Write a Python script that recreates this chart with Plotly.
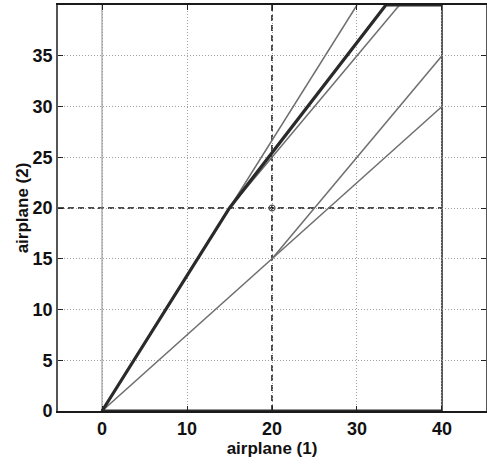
import plotly.graph_objects as go

# ---- data ----
bold_x = [40, 0, 15, 33.4, 40]
bold_y = [0, 0, 20, 40, 40]

steep_x = [0, 30]          # y = 4/3 x
steep_y = [0, 40]
upper_x = [15, 35]         # y = x + 5
upper_y = [20, 40]
low1_x = [0, 20, 40]       # y = 0.75 x
low1_y = [0, 15, 30]
low2_x = [20, 40]          # y = x - 5
low2_y = [15, 35]

ref_x = 20
ref_y = 20
bound_left = 0
bound_right = 40

x_ticks = [0, 10, 20, 30, 40]
y_ticks = [0, 5, 10, 15, 20, 25, 30, 35]
x_range = [-5.18, 45.18]
y_range = [0, 40]

fig = go.Figure()

gray = "#6e6e6e"
for xs, ys in [(steep_x, steep_y), (upper_x, upper_y), (low1_x, low1_y), (low2_x, low2_y)]:
    fig.add_trace(go.Scatter(x=xs, y=ys, mode="lines",
                             line=dict(color=gray, width=1.5), showlegend=False))

fig.add_trace(go.Scatter(x=bold_x, y=bold_y, mode="lines",
                         line=dict(color="#2a2a2a", width=3.2), showlegend=False))

fig.add_trace(go.Scatter(x=[ref_x], y=[ref_y], mode="markers",
                         marker=dict(symbol="circle-open", size=6, color="#555",
                                     line=dict(width=1.2)), showlegend=False))

# reference / boundary lines
fig.add_shape(type="line", xref="x", yref="y", x0=ref_x, x1=ref_x, y0=y_range[0], y1=y_range[1],
              line=dict(color="#111", width=1.5, dash="6px,4px"), layer="below")
fig.add_shape(type="line", xref="x", yref="y", x0=x_range[0], x1=bound_right, y0=ref_y, y1=ref_y,
              line=dict(color="#111", width=1.5, dash="6px,4px"), layer="below")
fig.add_shape(type="line", xref="x", yref="y", x0=bound_left, x1=bound_left, y0=y_range[0], y1=y_range[1],
              line=dict(color="#8a8a8a", width=1), layer="below")
fig.add_shape(type="line", xref="x", yref="y", x0=bound_right, x1=bound_right, y0=y_range[0], y1=y_range[1],
              line=dict(color="#444", width=1.8), layer="below")

font = dict(family="Liberation Sans, Arial, sans-serif", size=18, color="#111")

fig.update_layout(
    width=487, height=465,
    margin=dict(l=58, r=1, t=5, b=54, autoexpand=False),
    paper_bgcolor="white", plot_bgcolor="white",
    font=font,
)
common = dict(
    showgrid=True, gridcolor="#a0a0a0", griddash="1px,2px", gridwidth=1,
    zeroline=False, showline=True, mirror="ticks",
    ticks="inside", ticklen=5, tickcolor="#222", automargin=False,
)
fig.update_xaxes(
    range=x_range, tickvals=x_ticks, ticktext=[f"<b>{v}</b>" for v in x_ticks],
    title=dict(text="<b>airplane (1)</b>", standoff=0, font=dict(size=17)),
    linecolor="#1a1a1a", linewidth=2.2,
    **common,
)
fig.update_yaxes(
    range=y_range, tickvals=y_ticks, ticktext=[f"<b>{v}</b>" for v in y_ticks],
    title=dict(text="<b>airplane (2)</b>", standoff=0, font=dict(size=17)),
    linecolor="#555", linewidth=1.6,
    **common,
)

fig.write_html("out.html", config={"displayModeBar": False},
               post_script="document.body.style.margin='0';document.body.style.overflow='hidden';")
